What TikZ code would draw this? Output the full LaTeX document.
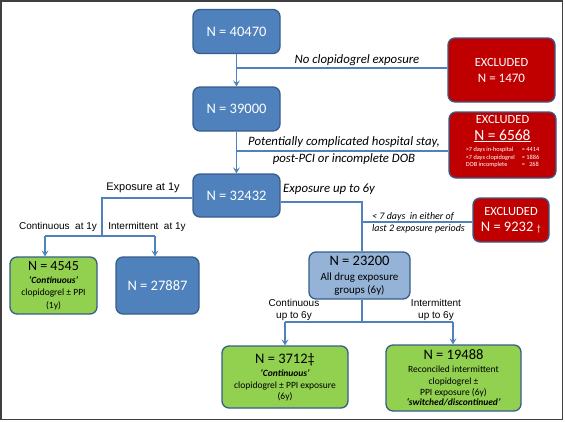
\documentclass[tikz,border=0pt]{standalone}
\usepackage{fontspec}
\setmainfont{Carlito}
\newfontfamily\arialf{Liberation Sans}
\usetikzlibrary{arrows.meta}
\definecolor{boxblue}{HTML}{4F81BD}
\definecolor{boxedge}{HTML}{385D8A}
\definecolor{boxred}{HTML}{C00000}
\definecolor{boxgreen}{HTML}{92D050}
\definecolor{boxlight}{HTML}{95B3D7}
\definecolor{linkblue}{HTML}{4F81BD}
\definecolor{frame}{HTML}{404040}
\newcommand{\fs}[1]{\fontsize{#1}{#1}\selectfont}
\newcommand{\fsb}[2]{\fontsize{#1}{#2}\selectfont}
\tikzset{
  base/.style={draw=boxedge, line width=1.3pt, rounded corners=7pt, align=center, inner sep=0pt},
  bluebox/.style={base, fill=boxblue, text=white},
  redbox/.style={base, fill=boxred, text=white},
  greenbox/.style={base, fill=boxgreen, text=black},
  lightbox/.style={base, fill=boxlight, text=black},
  link/.style={draw=linkblue, line width=1.3pt},
  arrowlink/.style={link, -{Stealth[length=6pt,width=7pt,inset=2.5pt]}},
  itlabel/.style={font=\itshape\fs{12.8}, inner sep=0pt},
  arlabel/.style={font=\arialf\fs{10}, inner sep=0pt, align=center},
}
\begin{document}
\begin{tikzpicture}[x=1pt,y=-1pt]
\useasboundingbox (0,0) rectangle (565,421);
\draw[frame, line width=1.5pt] (1,1) rectangle (562.5,419.5);

% main column
\node[bluebox, minimum width=87pt, minimum height=44pt] (n1) at (236.5,31.5) {\fs{14.5}N = 40470};
\node[bluebox, minimum width=87pt, minimum height=44pt] (n2) at (236.5,109) {\fs{14.5}N = 39000};
\node[bluebox, minimum width=87pt, minimum height=43pt] (n3) at (236.5,195.5) {\fs{14.5}N = 32432};

% excluded boxes
\node[redbox, minimum width=107pt, minimum height=64pt, font=\fsb{12.5}{16}] (ex1) at (501.5,70)
  {EXCLUDED\\{\fs{13}N = 1470}};
\node[redbox, minimum width=107pt, minimum height=66pt] (ex2) at (502.5,145) {};
\node[text=white, align=center, inner sep=0pt, anchor=north, font=\fsb{12.5}{17}] (ex2t) at ([yshift=-3.5pt]ex2.north)
  {EXCLUDED\\{\fs{15.5}\underline{N = 6568}}\\[2pt]
   {\fsb{6.3}{7.3}\begin{tabular}{@{}l@{\hspace{7pt}}l@{}}
   {>}7 days in-hospital & = 4414\\
   {<}7 days clopidogrel & = 1886\\
   DOB incomplete & = \ \ 268
   \end{tabular}}};
\node[redbox, minimum width=76pt, minimum height=44pt, font=\fsb{12.5}{16}] (ex3) at (511,220)
  {EXCLUDED\\{\fs{14.5}N = 9232 {\fs{9}†}}};

% 1y branch
\node[greenbox, minimum width=87pt, minimum height=57pt, font=\fsb{9.5}{12.3}] (c1) at (53.5,285.5)
  {{\fs{14}N = 4545}\\[1pt]\textbf{\textit{‘Continuous’}}\\clopidogrel ± PPI\\(1y)};
\node[bluebox, minimum width=83pt, minimum height=57pt] (i1) at (157.5,285.5) {\fs{14.5}N = 27887};

% 6y branch
\node[lightbox, minimum width=101pt, minimum height=47pt, font=\fsb{11}{13.5}] (n4) at (359.5,275.5)
  {{\fs{14.5}N = 23200}\\[1.5pt]All drug exposure\\groups (6y)};
\node[greenbox, minimum width=126pt, minimum height=62pt, font=\fsb{9.5}{12}] (c6) at (285,377)
  {{\fs{14.5}N = 3712‡}\\[1pt]\textbf{\textit{‘Continuous’}}\\clopidogrel ± PPI exposure\\[-1pt](6y)};
\node[greenbox, minimum width=135pt, minimum height=66pt, font=\fsb{9.5}{11.3}] (i6) at (453.5,378)
  {{\fs{14.5}N = 19488}\\[2pt]Reconciled intermittent\\clopidogrel ±\\PPI exposure (6y)\\[-1pt]\textbf{\textit{‘switched/discontinued’}}};

% connectors main column
\coordinate (b1) at (236.5,68);
\coordinate (b2) at (236.5,151);
\draw[arrowlink] (n1) -- (n2);
\draw[link] (b1) -- (ex1.west |- b1);
\draw[arrowlink] (n2) -- (n3);
\draw[link] (b2) -- (ex2.west |- b2);

% 1y
\coordinate (l1) at (102,198);
\coordinate (j1) at (102,236);
\coordinate (ca) at (45,236);
\coordinate (ia) at (155,236);
\draw[link] (n3.west |- l1) -- (l1) -- (j1);
\draw[link] (ca) -- (ia);
\draw[arrowlink] (ca) -- (ca |- c1.north);
\draw[arrowlink] (ia) -- (ia |- i1.north);

% 6y
\coordinate (r1) at (362,202);
\coordinate (b3) at (362,222);
\draw[link] (n3.east |- r1) -- (r1) -- (r1 |- n4.north);
\draw[link] (b3) -- (ex3.west |- b3);
\coordinate (j2) at (362,322);
\coordinate (cb) at (285,322);
\coordinate (ib) at (453,322);
\draw[link] (j2 |- n4.south) -- (j2);
\draw[link] (cb) -- (ib);
\draw[arrowlink] (cb) -- (cb |- c6.north);
\draw[arrowlink] (ib) -- (ib |- i6.north);

% labels
\node[itlabel] (lab1) at (357,60) {No clopidogrel exposure};
\node[itlabel] (lab2a) at (344,142) {Potentially complicated hospital stay,};
\node[itlabel] (lab2b) at (344,159) {post-PCI or incomplete DOB};
\node[arlabel, font=\arialf\fs{11}] (lab3) at (143,188) {Exposure at 1y};
\node[arlabel] (lab4) at (58,227) {Continuous\ \ at 1y};
\node[arlabel] (lab5) at (147,227) {Intermittent\ \ at 1y};
\node[itlabel, anchor=west] (lab6) at (283,189) {Exposure up to 6y};
\node[itlabel, font=\itshape\fs{10}, anchor=west] (lab7) at (372,216.5) {< 7 days\ \ in either of};
\node[itlabel, font=\itshape\fs{10}, anchor=west] (lab8) at (372,229) {last 2 exposure periods};
\node[arlabel] (lab9) at (294,310) {Continuous\\[2pt]up to 6y};
\node[arlabel] (lab10) at (436,310) {Intermittent\\[2pt]up to 6y};
\end{tikzpicture}
\end{document}
